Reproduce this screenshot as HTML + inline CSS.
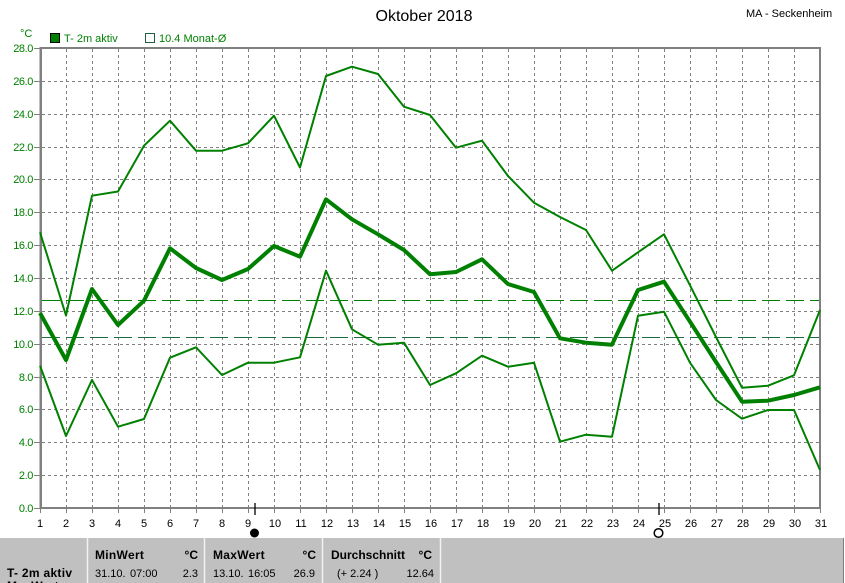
<!DOCTYPE html>
<html><head><meta charset="utf-8"><style>
html,body{margin:0;padding:0;background:#fff;}
svg{display:block;font-family:"Liberation Sans",Arial,sans-serif;}
</style></head><body>
<svg width="845" height="583" viewBox="0 0 845 583" xmlns="http://www.w3.org/2000/svg">
<rect x="0" y="0" width="845" height="583" fill="#fff"/>
<text x="424" y="21" font-size="16" text-anchor="middle" fill="#000">Oktober 2018</text>
<text x="746" y="17" font-size="11" fill="#000">MA - Seckenheim</text>
<text x="20" y="37" font-size="11" fill="#008000">°C</text>
<rect x="50.5" y="33.5" width="9" height="9" fill="#008000" stroke="#000"/>
<text x="64" y="42" font-size="11" fill="#008000">T- 2m aktiv</text>
<rect x="145.5" y="33.5" width="9" height="9" fill="none" stroke="#1a6040"/>
<text x="159" y="42" font-size="11" fill="#008000">10.4 Monat-Ø</text>
<g stroke="#808080" stroke-width="1" stroke-dasharray="3,3" fill="none">
<path d="M66.5 49V507M92.5 49V507M118.5 49V507M144.5 49V507M170.5 49V507M196.5 49V507M222.5 49V507M248.5 49V507M274.5 49V507M300.5 49V507M326.5 49V507M352.5 49V507M378.5 49V507M404.5 49V507M430.5 49V507M456.5 49V507M482.5 49V507M508.5 49V507M534.5 49V507M560.5 49V507M586.5 49V507M612.5 49V507M638.5 49V507M664.5 49V507M690.5 49V507M716.5 49V507M742.5 49V507M768.5 49V507M794.5 49V507"/>
<path d="M42 475.5H819M42 442.5H819M42 409.5H819M42 377.5H819M42 344.5H819M42 311.5H819M42 278.5H819M42 245.5H819M42 212.5H819M42 179.5H819M42 147.5H819M42 114.5H819M42 81.5H819"/>
</g>
<g stroke="#808080" stroke-width="1" fill="none">
<path d="M34 48.5H40M34 81.5H40M34 114.5H40M34 147.5H40M34 179.5H40M34 212.5H40M34 245.5H40M34 278.5H40M34 311.5H40M34 344.5H40M34 377.5H40M34 409.5H40M34 442.5H40M34 475.5H40M34 508.5H40"/>
<path d="M40.5 509V513M66.5 509V513M92.5 509V513M118.5 509V513M144.5 509V513M170.5 509V513M196.5 509V513M222.5 509V513M248.5 509V513M274.5 509V513M300.5 509V513M326.5 509V513M352.5 509V513M378.5 509V513M404.5 509V513M430.5 509V513M456.5 509V513M482.5 509V513M508.5 509V513M534.5 509V513M560.5 509V513M586.5 509V513M612.5 509V513M638.5 509V513M664.5 509V513M690.5 509V513M716.5 509V513M742.5 509V513M768.5 509V513M794.5 509V513M820.5 509V513"/>
</g>
<rect x="40" y="47" width="781" height="2" fill="#808080"/>
<rect x="40" y="507" width="781" height="2" fill="#808080"/>
<rect x="39.5" y="47" width="2.5" height="462" fill="#808080"/>
<rect x="819" y="47" width="2" height="462" fill="#808080"/>
<g font-size="11" fill="#008000" text-anchor="end" letter-spacing="-0.4">
<text x="33" y="52">28.0</text><text x="33" y="85">26.0</text><text x="33" y="118">24.0</text><text x="33" y="151">22.0</text><text x="33" y="183">20.0</text><text x="33" y="216">18.0</text><text x="33" y="249">16.0</text><text x="33" y="282">14.0</text><text x="33" y="315">12.0</text><text x="33" y="348">10.0</text><text x="33" y="381">8.0</text><text x="33" y="413">6.0</text><text x="33" y="446">4.0</text><text x="33" y="479">2.0</text><text x="33" y="512">0.0</text>
</g>
<g font-size="11" fill="#000" text-anchor="middle">
<text x="40" y="527">1</text><text x="66" y="527">2</text><text x="92" y="527">3</text><text x="118" y="527">4</text><text x="144" y="527">5</text><text x="170" y="527">6</text><text x="196" y="527">7</text><text x="222" y="527">8</text><text x="248" y="527">9</text><text x="275" y="527">10</text><text x="301" y="527">11</text><text x="327" y="527">12</text><text x="353" y="527">13</text><text x="379" y="527">14</text><text x="405" y="527">15</text><text x="431" y="527">16</text><text x="457" y="527">17</text><text x="483" y="527">18</text><text x="509" y="527">19</text><text x="535" y="527">20</text><text x="561" y="527">21</text><text x="587" y="527">22</text><text x="613" y="527">23</text><text x="639" y="527">24</text><text x="665" y="527">25</text><text x="691" y="527">26</text><text x="717" y="527">27</text><text x="743" y="527">28</text><text x="769" y="527">29</text><text x="795" y="527">30</text><text x="821" y="527">31</text>
</g>
<line x1="42" y1="300.5" x2="819" y2="300.5" stroke="#008000" stroke-width="1" stroke-dasharray="18,6"/>
<line x1="42" y1="337.5" x2="819" y2="337.5" stroke="#1a6b40" stroke-width="1" stroke-dasharray="18,6"/>
<g fill="none" stroke="#008000" stroke-linejoin="round">
<polyline stroke-width="2" points="40,232.3 66,315.5 92,195.7 118,191.5 144,145.7 170,120.7 196,150.7 222,150.7 248,143.3 274,115.7 300,167.5 326,76 352,66.7 378,74 404,106.7 430,115 456,147.7 482,140.7 508,176 534,202.7 560,217 586,230 612,270.7 638,252.3 664,234.3 690,285.3 716,337 742,387.7 768,385.7 794,375.3 820,310"/>
<polyline stroke-width="4" points="40,313 66,360 92,289 118,325 144,300.7 170,248.3 196,268 222,280 248,269 274,246 300,256.7 326,199.3 352,219.3 378,234.3 404,250 430,274.3 456,272 482,259.3 508,284 534,292 560,338.3 586,342.7 612,344.7 638,290 664,281.7 690,321.7 716,362 742,401.7 768,400.7 794,395 820,387.3"/>
<polyline stroke-width="2" points="40,365.7 66,436 92,380 118,426.7 144,419 170,357.7 196,347.3 222,375 248,362.7 274,362.7 300,357.3 326,270.7 352,329.3 378,344.7 404,342.7 430,385 456,373.3 482,355.7 508,366.7 534,362.7 560,441.7 586,434.7 612,436.7 638,315.7 664,311.7 690,362.7 716,400 742,418.7 768,410 794,410 820,470"/>
</g>
<line x1="255" y1="503" x2="255" y2="515" stroke="#000" stroke-width="1.3"/>
<circle cx="254.5" cy="533" r="4.5" fill="#000"/>
<line x1="659" y1="503" x2="659" y2="515" stroke="#000" stroke-width="1.3"/>
<circle cx="658.5" cy="533" r="4.3" fill="none" stroke="#000" stroke-width="1.5"/>
<rect x="0" y="538" width="843" height="45" fill="#c0c0c0"/>
<line x1="843.5" y1="538" x2="843.5" y2="583" stroke="#808080"/>
<g stroke="#f2f2f2" stroke-width="1.5">
<line x1="87.5" y1="538" x2="87.5" y2="583"/>
<line x1="204.5" y1="538" x2="204.5" y2="583"/>
<line x1="322.5" y1="538" x2="322.5" y2="583"/>
<line x1="440.5" y1="538" x2="440.5" y2="583"/>
</g>
<g font-size="12" font-weight="bold" fill="#000">
<text x="7" y="577" letter-spacing="0.3">T- 2m aktiv</text>
<text x="7" y="590" letter-spacing="0.3">MaxWert</text>
<text x="95" y="559" letter-spacing="0.3">MinWert</text>
<text x="198" y="559" text-anchor="end">°C</text>
<text x="213" y="559" letter-spacing="0.3">MaxWert</text>
<text x="316" y="559" text-anchor="end">°C</text>
<text x="331" y="559">Durchschnitt</text>
<text x="432" y="559" text-anchor="end">°C</text>
</g>
<g font-size="11" fill="#000">
<text x="95" y="577">31.10.</text><text x="130" y="577">07:00</text>
<text x="198" y="577" text-anchor="end">2.3</text>
<text x="213" y="577">13.10.</text><text x="248" y="577">16:05</text>
<text x="315" y="577" text-anchor="end">26.9</text>
<text x="337" y="577">(+ 2.24 )</text>
<text x="434" y="577" text-anchor="end">12.64</text>
</g>
</svg>
</body></html>
